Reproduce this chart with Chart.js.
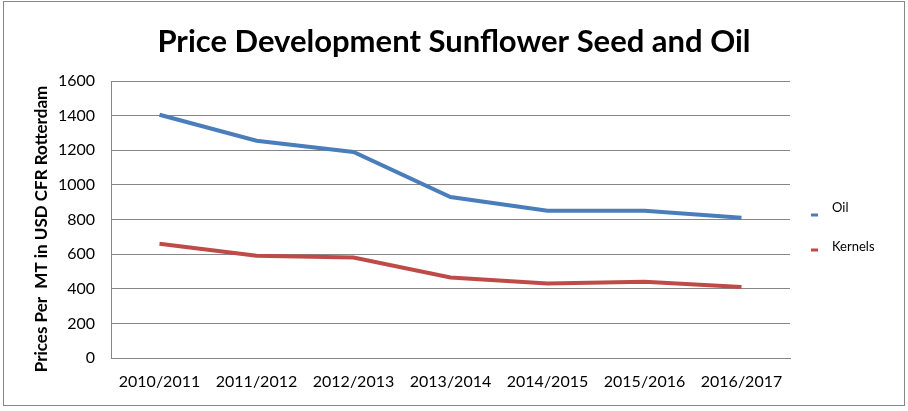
<!DOCTYPE html>
<html>
<head>
<meta charset="utf-8">
<script src="https://cdn.jsdelivr.net/npm/chart.js@4"></script>
<style>
html,body{margin:0;padding:0;background:#fff;}
#wrap{width:908px;height:411px;position:relative;}
</style>
</head>
<body>
<div id="wrap"><canvas id="c" width="908" height="411"></canvas></div>
<script>
const categories = ['2010/2011','2011/2012','2012/2013','2013/2014','2014/2015','2015/2016','2016/2017'];
const oilValues = [1405, 1255, 1190, 930, 850, 850, 810];
const kernelValues = [660, 590, 580, 465, 430, 440, 410];
const yTicks = [0,200,400,600,800,1000,1200,1400,1600];
const titleText = 'Price Development Sunflower Seed and Oil';
const yTitle = 'Prices Per  MT in USD CFR Rotterdam';

const FONT = 'Lato, "Open Sans", sans-serif';

const decor = {
  id: 'decor',
  afterDraw(chart) {
    const ctx = chart.ctx;
    ctx.save();
    // frame
    ctx.strokeStyle = '#868686';
    ctx.lineWidth = 1;
    ctx.strokeRect(3.5, 1.5, 901, 404);
    // title
    ctx.fillStyle = '#000';
    ctx.font = 'bold 31px ' + FONT;
    ctx.textAlign = 'center';
    ctx.textBaseline = 'middle';
    ctx.fillText(titleText, 454, 42);
    // y axis title
    ctx.save();
    ctx.translate(42, 229);
    ctx.rotate(-Math.PI / 2);
    ctx.font = 'bold 17px ' + FONT;
    ctx.fillText(yTitle, 0, 0);
    ctx.restore();
    // legend
    const items = [
      {label: chart.data.datasets[0].label, color: chart.data.datasets[0].borderColor, ty: 208, my: 215},
      {label: chart.data.datasets[1].label, color: chart.data.datasets[1].borderColor, ty: 247, my: 250}
    ];
    ctx.font = '13px ' + FONT;
    ctx.textAlign = 'left';
    items.forEach(it => {
      ctx.fillStyle = it.color;
      ctx.fillRect(811, it.my - 1.5, 7, 3);
      ctx.fillStyle = '#000';
      ctx.fillText(it.label, 832, it.ty);
    });
    ctx.restore();
  }
};

new Chart(document.getElementById('c'), {
  type: 'line',
  data: {
    labels: categories,
    datasets: [
      {label: 'Oil', data: oilValues, borderColor: '#4A7EBB', backgroundColor: '#4A7EBB', borderWidth: 4, pointRadius: 0, tension: 0},
      {label: 'Kernels', data: kernelValues, borderColor: '#BE4B48', backgroundColor: '#BE4B48', borderWidth: 4, pointRadius: 0, tension: 0}
    ]
  },
  options: {
    responsive: false,
    animation: false,
    layout: {padding: {top: 81, right: 118, left: 0, bottom: 0}},
    plugins: {legend: {display: false}, title: {display: false}, tooltip: {enabled: false}},
    scales: {
      x: {
        offset: true,
        grid: {display: false, drawTicks: false},
        border: {display: true, color: '#868686'},
        ticks: {color: '#000', font: {family: FONT, size: 16}, padding: 14, maxRotation: 0, autoSkip: false},
        afterFit(s) { s.height = 53; }
      },
      y: {
        min: 0, max: 1600,
        afterBuildTicks(s) { s.ticks = yTicks.map(v => ({value: v})); },
        grid: {color: '#868686', drawTicks: false},
        border: {display: true, color: '#868686'},
        ticks: {color: '#000', font: {family: FONT, size: 16}, padding: 16, callback: v => String(v)},
        title: {display: false},
        afterFit(s) { s.width = 111; }
      }
    }
  },
  plugins: [decor]
});
</script>
</body>
</html>
